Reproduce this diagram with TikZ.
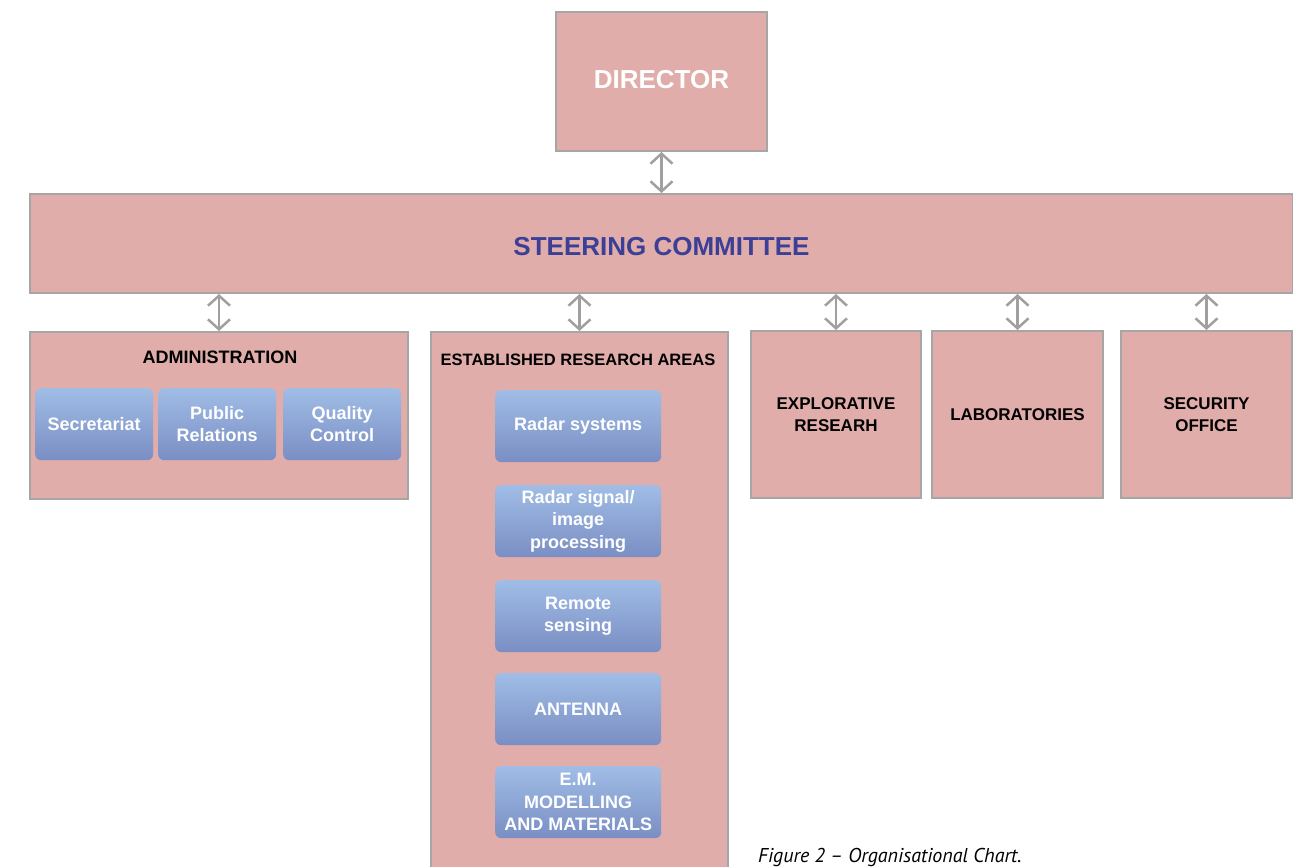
\documentclass[tikz,border=0pt]{standalone}
\usepackage{fontspec}
\setmainfont{Liberation Sans}
\newfontfamily\capfont{PT Sans}
\usetikzlibrary{arrows.meta}
\definecolor{pinkfill}{HTML}{E0ADAA}
\definecolor{boxline}{HTML}{A6A6A6}
\definecolor{bluetop}{HTML}{A0BDE6}
\definecolor{bluebot}{HTML}{7A8EC3}
\definecolor{steerblue}{HTML}{3C3F96}
\definecolor{arrowgray}{HTML}{A0A0A0}
\tikzset{
 orgbox/.style={draw=boxline, line width=2pt, fill=pinkfill, anchor=north west, inner sep=0pt, align=center},
 subbox/.style={rounded corners=6pt, top color=bluetop, bottom color=bluebot, anchor=north west, inner sep=0pt, text=white, font=\fontsize{18}{22.5}\selectfont\bfseries, align=center, minimum width=118pt, minimum height=72pt},
 rsbox/.style={subbox, minimum width=166pt},
 headtext/.style={font=\fontsize{17}{22}\selectfont\bfseries, text=black, align=center},
 link/.style={draw=arrowgray, line width=2.5pt, {Straight Barb[length=10pt,width=22pt]}-{Straight Barb[length=10pt,width=22pt]}},
}
\begin{document}
\begin{tikzpicture}[x=1pt,y=-1pt]
\useasboundingbox (0,0) rectangle (1293,867);
\fill[white] (0,0) rectangle (1293,867);
% main boxes
\node[orgbox, minimum width=211pt, minimum height=139pt, text=white, font=\fontsize{26}{30}\selectfont\bfseries, text height=18.6pt, text depth=4pt] (director) at (555,11) {DIRECTOR};
\node[orgbox, minimum width=1263pt, minimum height=99pt, text=steerblue, font=\fontsize{26}{30}\selectfont\bfseries, text height=23pt, text depth=0pt] (steering) at (29,193) {STEERING COMMITTEE};
\node[orgbox, minimum width=378pt, minimum height=167pt] (admin) at (29,331) {};
\node[orgbox, minimum width=297pt, minimum height=545pt] (research) at (430,331) {};
\node[orgbox, minimum width=170pt, minimum height=167pt, headtext] (explor) at (750,330) {EXPLORATIVE\\RESEARH};
\node[orgbox, minimum width=171pt, minimum height=167pt, headtext] (labs) at (931,330) {LABORATORIES};
\node[orgbox, minimum width=171pt, minimum height=167pt, headtext] (security) at (1120,330) {SECURITY\\OFFICE};
% titles
\node[headtext, font=\fontsize{18}{22}\selectfont\bfseries] (admintitle) at (220,357) {ADMINISTRATION};
\node[headtext, font=\fontsize{16.5}{22}\selectfont\bfseries] (restitle) at (578,360) {ESTABLISHED RESEARCH AREAS};
% admin sub boxes
\node[subbox] (secr) at (35,388) {Secretariat};
\node[subbox] (pr) at (158,388) {Public\\Relations};
\node[subbox] (qc) at (283,388) {Quality\\Control};
% research sub boxes
\node[rsbox] (radar) at (495,390) {Radar systems};
\node[rsbox] (signal) at (495,485) {Radar signal/\\image\\processing};
\node[rsbox] (remote) at (495,580) {Remote\\sensing};
\node[rsbox] (antenna) at (495,673) {ANTENNA};
\node[rsbox] (em) at (495,766) {E.M.\\MODELLING\\AND MATERIALS};
% connectors
\draw[link] (director.south) -- (steering.north -| director.south);
\draw[link] (steering.south -| admin.north) -- (admin.north);
\draw[link] (steering.south -| research.north) -- (research.north);
\draw[link] (steering.south -| explor.north) -- (explor.north);
\draw[link] (steering.south -| labs.north) -- (labs.north);
\draw[link] (steering.south -| security.north) -- (security.north);
% caption
\node[anchor=base west, inner sep=0pt, font=\capfont\itshape\fontsize{20}{24}\selectfont] (caption) at (758,862) {Figure 2 – Organisational Chart.};
\end{tikzpicture}
\end{document}
